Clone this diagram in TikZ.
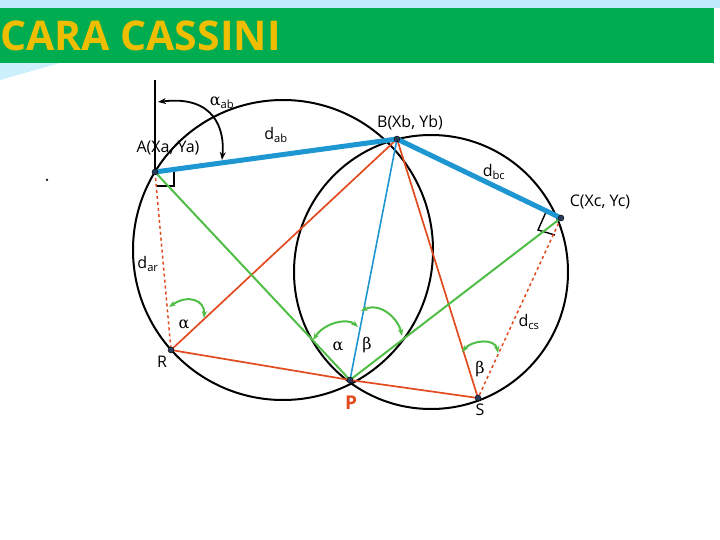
\documentclass[tikz,border=0pt]{standalone}
\usepackage{fontspec}
\setmainfont{Open Sans}
\newfontfamily\grk{DejaVu Serif}
\usetikzlibrary{calc,arrows.meta}
\definecolor{hdr}{RGB}{0,172,80}
\definecolor{ttl}{RGB}{240,190,0}
\definecolor{bl}{RGB}{30,150,210}
\definecolor{rd}{RGB}{225,75,30}
\definecolor{gr}{RGB}{80,190,70}
\definecolor{pt}{RGB}{40,60,90}
\tikzset{
 lbl/.style={font=\fontsize{16}{18}\selectfont,inner sep=1pt},
 thickblue/.style={bl,line width=5pt},
 redl/.style={rd,line width=1.7pt},
 redd/.style={rd,line width=1.5pt,dashed},
 greenl/.style={gr,line width=2pt},
 ang/.style={gr,line width=2pt,{Stealth[length=7pt]}-{Stealth[length=7pt]}},
 circ/.style={black,line width=2pt},
 dot/.style={circle,fill=pt,draw=black,inner sep=0pt,minimum size=6pt}
}
\begin{document}
\begin{tikzpicture}[x=1pt,y=-1pt]
\useasboundingbox (0,0) rectangle (720,540);
\fill[cyan!25] (0,0) rectangle (720,8);
\fill[cyan!20] (0,63) -- (60,63) -- (0,80) -- cycle;
\node[fill=hdr,minimum width=714pt,minimum height=55pt,anchor=north west,inner sep=0pt] (hd) at (0,8) {};
\node[anchor=west,text=ttl,font=\fontsize{41}{44}\selectfont\bfseries,inner sep=0pt] (title) at (0,36) {CARA CASSINI};
\coordinate (A) at (155,172);
\coordinate (B) at (397,139);
\coordinate (C) at (561,218);
\coordinate (R) at (171,350);
\coordinate (P) at (350,380);
\coordinate (S) at (478,398);
\coordinate (N) at (155,80);
\draw[circ] (283,250) circle (150);
\draw[circ] (431,272) circle (137);
\draw[black,line width=1.5pt] (A) -- (N);
\draw[black,line width=1.8pt,{Stealth[length=8pt]}-{Stealth[length=8pt]}] (158,102) .. controls (215,95) and (225,130) .. (222,160);
\draw[black,line width=1.4pt] (156,186) -- (174,186) -- (174,170);
\draw[black,line width=1.4pt] (546,212) -- (538,230) -- (555,235);
\draw[redd] (A) -- (R);
\draw[redd] (C) -- (S);
\draw[redl] (R) -- (B);
\draw[redl] (R) -- (P) -- (S);
\draw[redl] (B) -- (S);
\draw[bl,line width=1.6pt] (B) -- (P);
\draw[greenl] (A) -- (P);
\draw[greenl] (C) -- (P);
\draw[thickblue] (A) -- (B) -- (C);
\draw[ang] (169,307) .. controls (188,294) and (205,300) .. (204,318);
\draw[ang] (313,340) .. controls (325,322) and (348,318) .. (358,327);
\draw[ang] (361,311) .. controls (380,302) and (398,318) .. (402,336);
\draw[ang] (462,352) .. controls (472,340) and (495,338) .. (498,353);
\node[dot] (dA) at (A) {};
\node[dot] (dB) at (B) {};
\node[dot] (dC) at (C) {};
\node[dot] (dR) at (R) {};
\node[dot] (dP) at (P) {};
\node[dot] (dS) at (S) {};
\node[circle,fill=black,inner sep=0pt,minimum size=2.5pt] (sp) at (47,180) {};
\node[lbl] (l1) at (222,103) {{\grk α}\textsubscript{ab}};
\node[lbl] (l2) at (276,135) {d\textsubscript{ab}};
\node[lbl] (l3) at (410,123) {B(Xb, Yb)};
\node[lbl] (l4) at (168,148) {A(Xa, Ya)};
\node[lbl] (l5) at (494,172) {d\textsubscript{bc}};
\node[lbl] (l6) at (600,202) {C(Xc, Yc)};
\node[lbl] (l7) at (148,264) {d\textsubscript{ar}};
\node[lbl] (l8) at (184,324) {\grk α};
\node[lbl] (l9) at (162,362) {R};
\node[lbl] (l10) at (338,346) {\grk α};
\node[lbl] (l11) at (367,345) {\grk β};
\node[lbl,text=rd,font=\fontsize{19}{20}\selectfont\bfseries] (l12) at (351,403) {P};
\node[lbl] (l13) at (480,369) {\grk β};
\node[lbl] (l14) at (480,410) {S};
\node[lbl] (l15) at (529,322) {d\textsubscript{cs}};
\end{tikzpicture}
\end{document}
